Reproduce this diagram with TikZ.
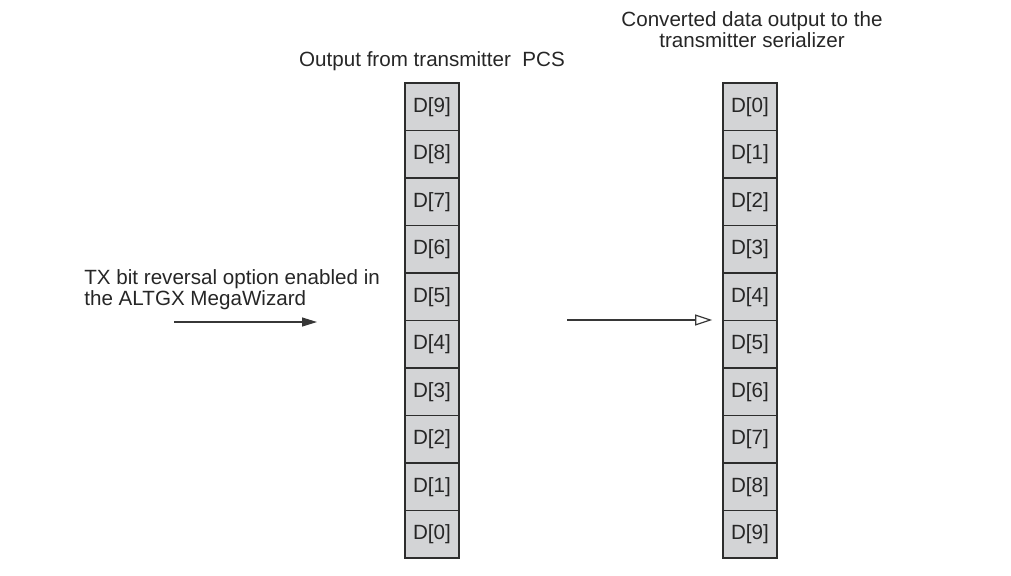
\documentclass[tikz,border=0pt]{standalone}
\usepackage{fontspec}
\setmainfont{Liberation Sans}
\usetikzlibrary{arrows.meta}
\definecolor{cellfill}{RGB}{211,212,214}
\definecolor{cellline}{RGB}{45,45,45}
\definecolor{arrowline}{RGB}{55,55,55}
\begin{document}
\begin{tikzpicture}[x=0.5pt,y=-0.5pt,
  every node/.style={font=\fontsize{10.3}{12}\selectfont, text=black!85},
  cell/.style={draw=cellline, fill=cellfill, line width=0.8pt, minimum width=27pt, minimum height=23.75pt, inner sep=0pt},
  label/.style={inner sep=0pt},
  tightlabel/.style={inner sep=0pt, font=\fontsize{10.3}{9}\selectfont},
  solidarrow/.style={draw=arrowline, line width=0.6pt, -{Triangle[length=7.5pt,width=4.5pt]}},
  openarrow/.style={draw=arrowline, line width=0.6pt, -{Triangle[open,length=8.5pt,width=5.5pt,fill=white]}}]
\useasboundingbox (0,0) rectangle (1011,575);
\foreach \i in {0,...,9}{
  \pgfmathtruncatemacro{\lidx}{9-\i}
  \node[cell] (L\lidx) at (432,{106.75+47.5*\i}) {D[\lidx]};
  \node[cell] (R\i) at (750,{106.75+47.5*\i}) {D[\i]};
}
\node[label] (ltitle) at (432,61) {Output from transmitter\ \ PCS};
\node[tightlabel, align=center] (rtitle) at (752,30) {Converted data output to the\\transmitter serializer};
\node[tightlabel, align=left, anchor=west] (opt) at (84,290) {TX bit reversal option enabled in\\the ALTGX MegaWizard};
\coordinate (a1s) at (174,322);
\coordinate (a1e) at (317,322);
\coordinate (a2s) at (567,320);
\draw[solidarrow] (a1s) -- (a1e);
\draw[openarrow] (a2s) -- ([xshift=-5pt]R4.west |- a2s);
\end{tikzpicture}
\end{document}
